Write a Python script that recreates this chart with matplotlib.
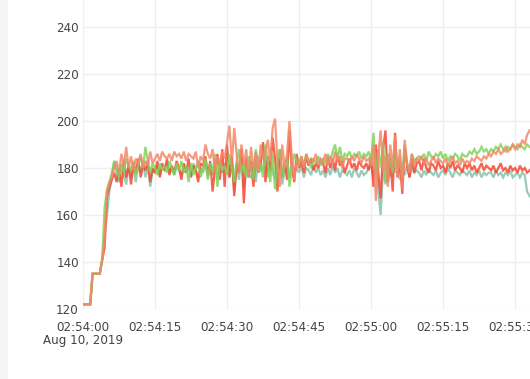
import matplotlib
matplotlib.use("Agg")
import matplotlib.pyplot as plt
import numpy as np
import pandas as pd
from matplotlib.patches import Rectangle

start_time = "2019-08-10 02:54:00"
sample_interval = "500ms"

red_values = [
    122,122,122,122,135,135,135,135,141,146,
    168,172,175,178,174,180,172,183,176,181,
    173,182,178,184,176,181,179,183,174,180,
    178,183,176,182,179,184,177,181,178,183,
    180,175,182,178,184,176,181,179,174,182,
    181,185,177,183,170,180,186,175,188,172,
    190,176,185,168,182,178,188,165,184,176,
    183,172,187,178,181,191,174,185,179,193,
    184,170,188,176,182,175,196,180,174,186,
    180,183,178,185,181,184,179,182,180,183,
    182,178,185,180,184,179,186,181,183,178,
    181,184,180,182,179,183,181,180,182,179,
    185,172,190,178,167,188,196,174,184,170,
    195,176,183,169,188,181,176,184,178,182,
    183,179,184,180,178,182,181,179,183,180,
    181,178,182,180,183,179,181,180,178,182,
    180,182,179,181,178,180,182,179,181,180,
    179,181,178,180,182,179,180,178,181,179,
    180,178,181,179,180,178,179,
]
salmon_values = [
    122,122,122,122,135,135,135,135,141,150,
    170,174,176,180,183,178,186,181,189,180,
    185,179,184,182,186,180,183,181,187,182,
    184,186,183,187,185,184,186,183,187,185,
    186,184,187,183,186,185,184,187,180,185,
    183,190,186,184,188,179,185,182,187,184,
    191,198,182,197,186,178,190,181,188,176,
    189,180,186,178,190,184,187,192,183,197,
    201,183,172,190,180,186,200,184,175,182,
    181,185,180,186,182,184,183,186,181,184,
    183,186,181,185,182,187,183,185,180,184,
    184,182,185,183,186,184,182,185,183,184,
    181,190,166,186,196,178,185,172,190,180,
    194,176,188,171,192,182,178,186,181,184,
    183,185,182,184,181,183,185,182,184,183,
    182,184,181,183,185,182,183,181,184,182,
    183,182,184,183,185,184,183,185,184,186,
    185,187,186,188,186,187,189,187,188,190,
    188,190,189,192,190,194,196,
]
green_values = [
    122,122,122,122,135,135,135,135,141,163,
    171,174,178,183,180,176,182,178,184,181,
    179,183,177,181,185,180,189,183,178,182,
    180,177,182,179,181,178,183,180,177,182,
    179,183,178,181,174,182,177,180,183,176,
    180,184,175,182,178,186,172,183,179,181,
    177,186,180,174,183,188,178,182,176,185,
    180,175,188,178,182,176,190,183,174,186,
    171,183,188,176,181,185,172,180,186,183,
    182,185,181,186,183,180,184,182,185,181,
    184,182,186,183,187,190,184,189,183,186,
    185,187,184,186,185,187,184,186,185,187,
    183,195,176,188,180,191,174,186,183,178,
    188,179,185,176,190,182,180,186,183,184,
    185,184,186,183,187,185,184,186,185,187,
    184,186,183,185,184,186,185,183,186,185,
    185,187,186,188,186,187,189,187,188,186,
    188,187,189,188,190,188,187,189,188,190,
    189,188,190,189,188,190,189,
]
teal_values = [
    122,122,122,122,135,135,135,135,141,152,
    160,170,176,183,178,174,181,177,173,182,
    176,180,174,182,178,183,176,181,172,179,
    178,181,177,180,179,182,178,180,177,181,
    179,177,181,178,180,177,182,179,176,180,
    178,182,176,181,177,184,175,180,178,182,
    180,176,184,170,181,175,188,172,180,177,
    176,182,174,185,179,180,186,176,182,178,
    175,180,184,173,179,181,176,183,178,180,
    178,181,176,180,179,177,181,178,180,177,
    179,176,180,177,181,178,180,176,179,178,
    177,179,176,180,178,176,179,177,178,180,
    181,176,184,170,160,180,173,186,176,182,
    178,183,175,180,177,181,176,180,178,179,
    178,176,179,177,180,178,177,179,176,178,
    179,177,180,178,176,179,178,177,179,178,
    177,179,176,178,177,179,176,178,177,178,
    178,176,179,177,178,176,178,177,179,176,
    177,178,176,178,177,170,168,
]

y_ticks = [120, 140, 160, 180, 200, 220, 240]
x_tick_labels = ["02:54:00\nAug 10, 2019", "02:54:15", "02:54:30", "02:54:45",
                 "02:55:00", "02:55:15", "02:55:30"]

times = pd.date_range(start_time, periods=len(red_values), freq=sample_interval)
t0 = pd.Timestamp(start_time)

fig = plt.figure(figsize=(5.30, 3.79), dpi=100)
fig.patches.append(Rectangle((0, 0), 8 / 530, 1, transform=fig.transFigure,
                             facecolor="#f5f5f5", edgecolor="none", zorder=0))
ax = fig.add_axes([83 / 530, 70 / 379, 447 / 530, 309 / 379])

series = [
    (teal_values, "#86c3ac"),
    (red_values, "#f9452f"),
    (green_values, "#7fd45a"),
    (salmon_values, "#f2896a"),
]
for vals, col in series:
    ax.plot(times, vals, color=col, lw=1.6, alpha=0.85, solid_joinstyle="miter")

tick_times = [t0 + pd.Timedelta(seconds=15 * i) for i in range(len(x_tick_labels))]
ax.set_xticks(tick_times)
ax.set_xticklabels(x_tick_labels)
ax.set_xlim(t0, t0 + pd.Timedelta(seconds=93.1))
ax.set_ylim(120, 251.5)
ax.set_yticks(y_ticks)
ax.set_yticklabels([str(v) for v in y_ticks])

for lab in ax.get_xticklabels():
    lab.set_multialignment("center")
    lab.set_linespacing(1.05)

ax.grid(True, color="#eeeeee", lw=1)
ax.set_axisbelow(True)
for s in ax.spines.values():
    s.set_visible(False)
ax.tick_params(axis="both", length=0, labelsize=8.6, colors="#444444")
ax.tick_params(axis="x", pad=8.5)
ax.tick_params(axis="y", pad=3)

fig.savefig("out.png", dpi=100)
